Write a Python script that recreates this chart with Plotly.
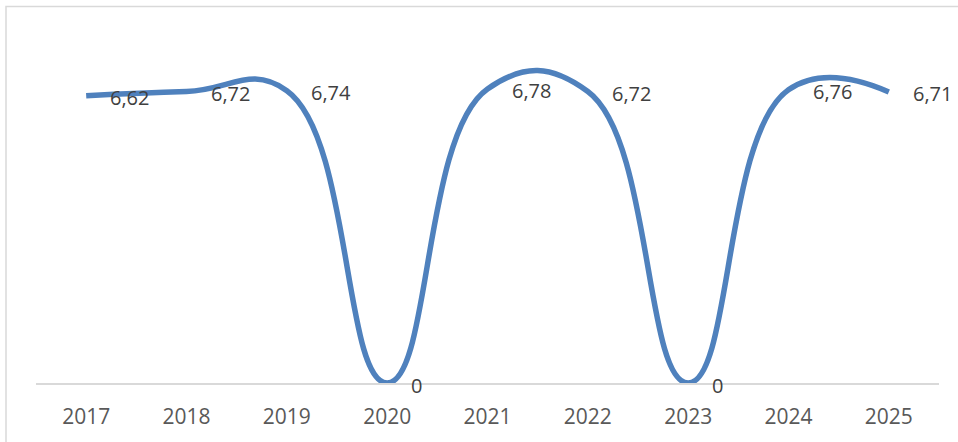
import plotly.graph_objects as go

years = ["2017", "2018", "2019", "2020", "2021", "2022", "2023", "2024", "2025"]
values = [6.62, 6.72, 6.74, 0, 6.78, 6.72, 0, 6.76, 6.71]
labels = [("%.2f" % v).replace(".", ",") if v else "0" for v in values]

W, H = 958, 442
ml, mr, mt, mb = 36, 19, 36, 59
pw, ph = W - ml - mr, H - mt - mb

fig = go.Figure()
fig.add_trace(go.Scatter(
    x=years, y=values, mode="lines",
    line=dict(color="#4F81BD", width=5.5, shape="spline", smoothing=1.3),
    cliponaxis=False, hoverinfo="skip",
))

for i, (y, t) in enumerate(zip(values, labels)):
    fig.add_annotation(x=i, y=y, text=t, showarrow=False, xanchor="left",
                       yanchor="middle", xshift=22, yshift=-2,
                       font=dict(family="Open Sans", size=20, color="#404040"))

# chart-area border
fig.add_shape(type="rect", xref="paper", yref="paper",
              x0=(6 - ml) / pw, x1=(970 - ml) / pw,
              y0=(H - mb - 460) / ph, y1=(H - mb - 6.5) / ph,
              line=dict(color="#D9D9D9", width=1.5), fillcolor="rgba(0,0,0,0)", layer="below")

fig.update_layout(
    width=W, height=H,
    margin=dict(l=ml, r=mr, t=mt, b=mb),
    paper_bgcolor="white", plot_bgcolor="white",
    showlegend=False,
    xaxis=dict(type="category", range=[-0.5, 8.5], showgrid=False, zeroline=False,
               showline=True, linecolor="#D9D9D9", linewidth=1.5, ticks="",
               ticklabelstandoff=14,
               tickfont=dict(family="Open Sans", size=21, color="#595959")),
    yaxis=dict(range=[0, 8], visible=False, showgrid=False, zeroline=False),
)

fig.write_html("out.html", config={"displayModeBar": False},
               post_script="document.body.style.margin='0';")
